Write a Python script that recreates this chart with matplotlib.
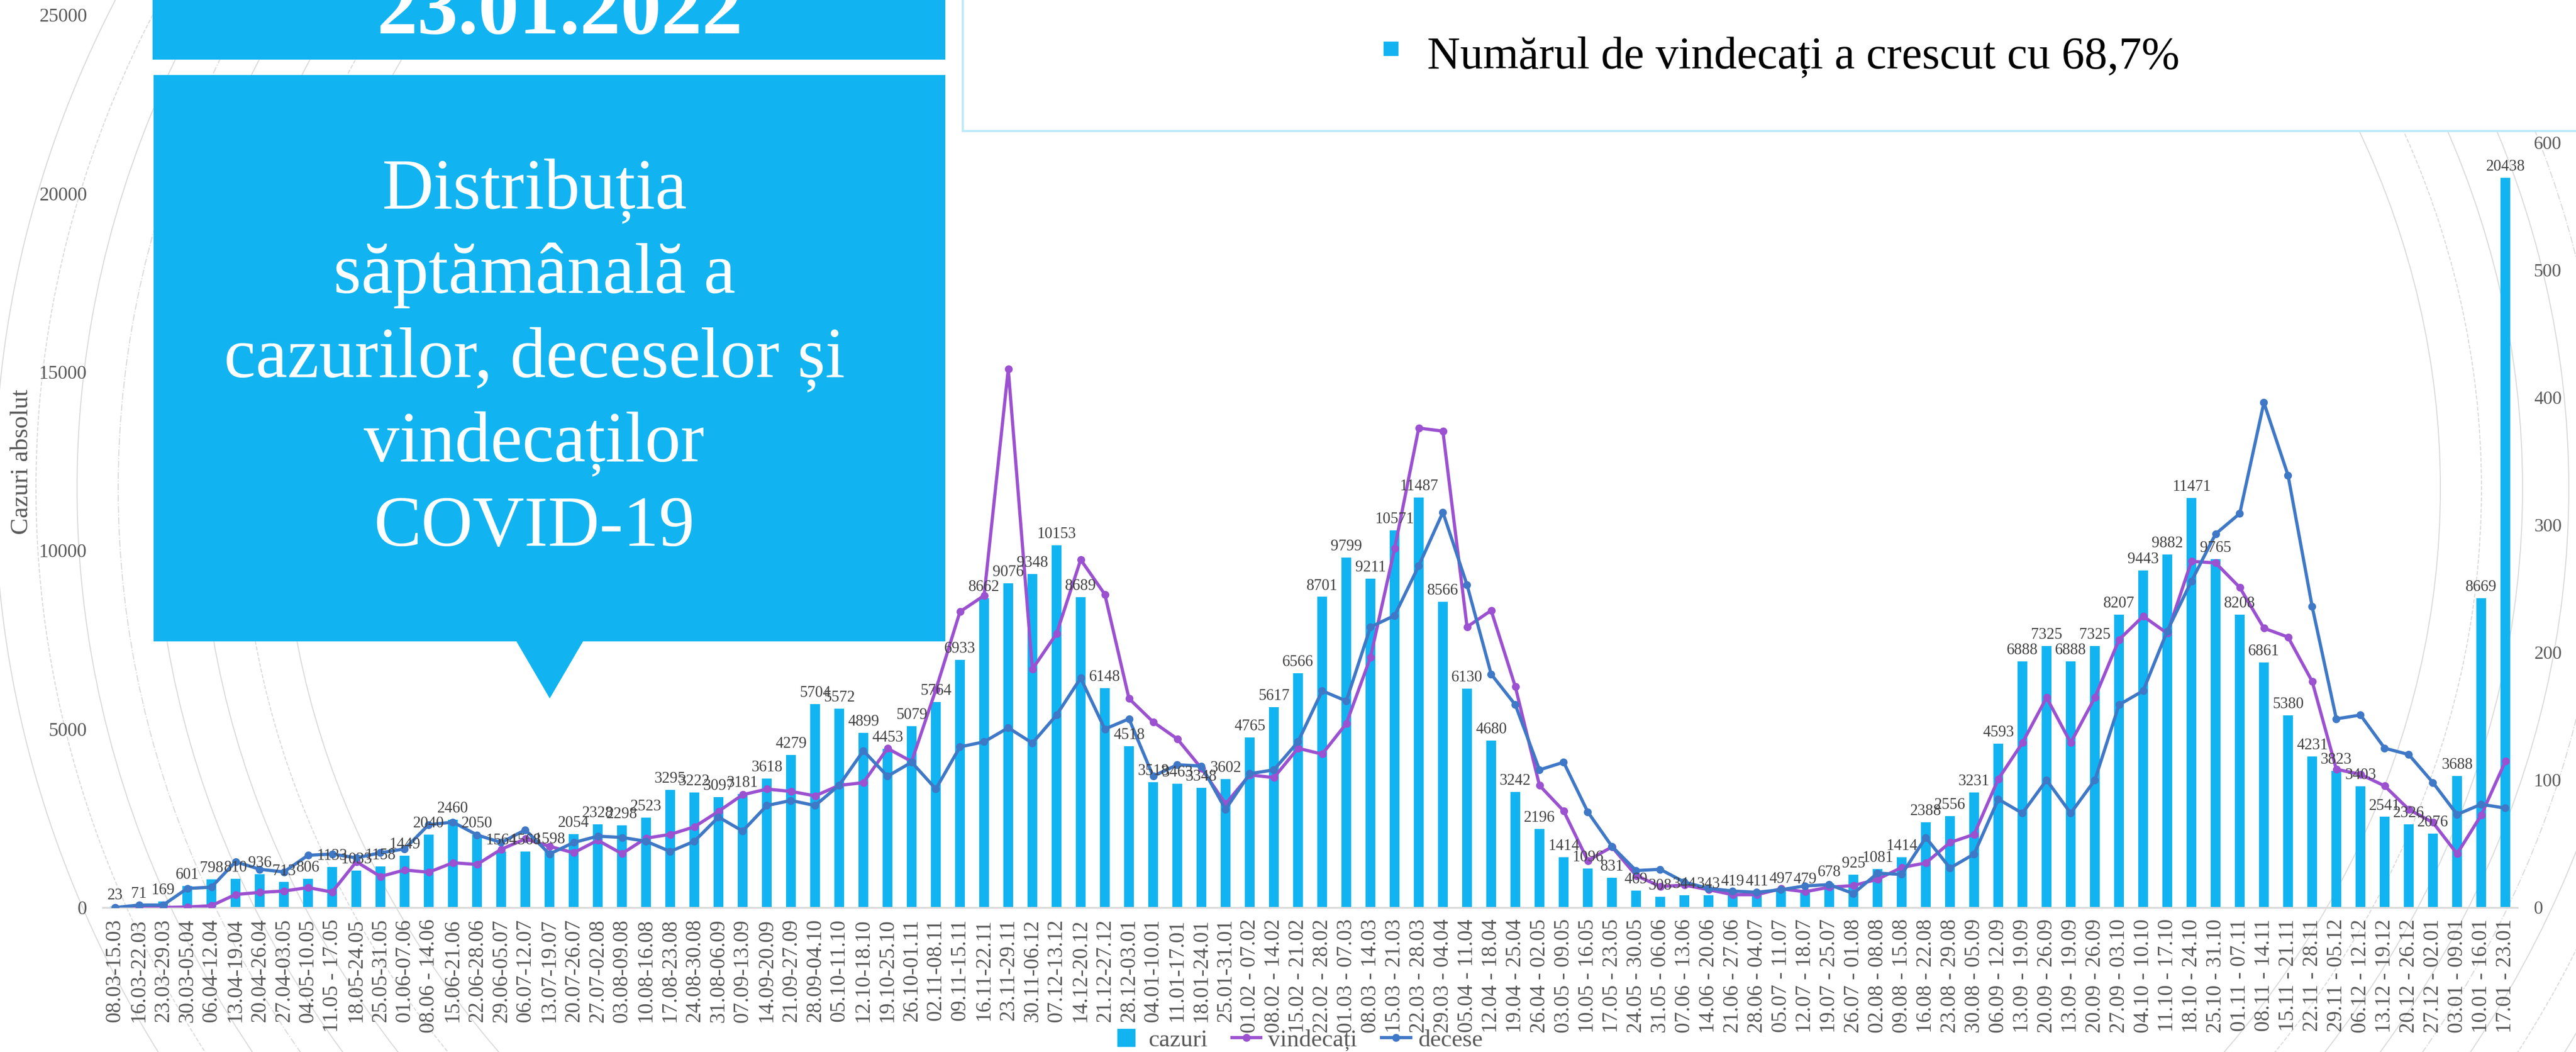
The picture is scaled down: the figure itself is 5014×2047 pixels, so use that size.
import matplotlib.pyplot as plt
from matplotlib.patches import Rectangle, Polygon, Ellipse
from matplotlib.lines import Line2D

plt.rcParams['font.family'] = ['Liberation Serif', 'DejaVu Serif']

weeks = ['08.03-15.03', '16.03-22.03', '23.03-29.03', '30.03-05.04', '06.04-12.04',
         '13.04-19.04', '20.04-26.04', '27.04-03.05', '04.05-10.05', '11.05 - 17.05',
         '18.05-24.05', '25.05-31.05', '01.06-07.06', '08.06 - 14.06', '15.06-21.06',
         '22.06-28.06', '29.06-05.07', '06.07-12.07', '13.07-19.07', '20.07-26.07',
         '27.07-02.08', '03.08-09.08', '10.08-16.08', '17.08-23.08', '24.08-30.08',
         '31.08-06.09', '07.09-13.09', '14.09-20.09', '21.09-27.09', '28.09-04.10',
         '05.10-11.10', '12.10-18.10', '19.10-25.10', '26.10-01.11', '02.11-08.11',
         '09.11-15.11', '16.11-22.11', '23.11-29.11', '30.11-06.12', '07.12-13.12',
         '14.12-20.12', '21.12-27.12', '28.12-03.01', '04.01-10.01', '11.01-17.01',
         '18.01-24.01', '25.01-31.01', '01.02 - 07.02', '08.02 - 14.02', '15.02 - 21.02',
         '22.02 - 28.02', '01.03 - 07.03', '08.03 - 14.03', '15.03 - 21.03', '22.03 - 28.03',
         '29.03 - 04.04', '05.04 - 11.04', '12.04 - 18.04', '19.04 - 25.04', '26.04 - 02.05',
         '03.05 - 09.05', '10.05 - 16.05', '17.05 - 23.05', '24.05 - 30.05', '31.05 - 06.06',
         '07.06 - 13.06', '14.06 - 20.06', '21.06 - 27.06', '28.06 - 04.07', '05.07 - 11.07',
         '12.07 - 18.07', '19.07 - 25.07', '26.07 - 01.08', '02.08 - 08.08', '09.08 - 15.08',
         '16.08 - 22.08', '23.08 - 29.08', '30.08 - 05.09', '06.09 - 12.09', '13.09 - 19.09',
         '20.09 - 26.09', '13.09 - 19.09', '20.09 - 26.09', '27.09 - 03.10', '04.10 - 10.10',
         '11.10 - 17.10', '18.10 - 24.10', '25.10 - 31.10', '01.11 - 07.11', '08.11 - 14.11',
         '15.11 - 21.11', '22.11 - 28.11', '29.11 - 05.12', '06.12 - 12.12', '13.12 - 19.12',
         '20.12 - 26.12', '27.12 - 02.01', '03.01 - 09.01', '10.01 - 16.01', '17.01 - 23.01']

cazuri = [23, 71, 169, 601, 798, 810, 936, 713, 806, 1133,
          1033, 1158, 1449, 2040, 2460, 2050, 1564, 1568, 1598, 2054,
          2328, 2298, 2523, 3295, 3222, 3097, 3181, 3618, 4279, 5704,
          5572, 4899, 4453, 5079, 5764, 6933, 8662, 9076, 9348, 10153,
          8689, 6148, 4518, 3518, 3463, 3348, 3602, 4765, 5617, 6566,
          8701, 9799, 9211, 10571, 11487, 8566, 6130, 4680, 3242, 2196,
          1414, 1096, 831, 469, 308, 344, 343, 419, 411, 497,
          479, 678, 925, 1081, 1414, 2388, 2556, 3231, 4593, 6888,
          7325, 6888, 7325, 8207, 9443, 9882, 11471, 9765, 8208, 6861,
          5380, 4231, 3823, 3403, 2541, 2326, 2076, 3688, 8669, 20438]

vindecati = [0, 0, 3, 15, 53, 367, 425, 464, 560, 435,
             1285, 870, 1053, 990, 1256, 1208, 1633, 1923, 1715, 1536,
             1884, 1510, 1944, 2050, 2261, 2695, 3160, 3318, 3255, 3128,
             3424, 3498, 4459, 4090, 6100, 8285, 8739, 15080, 6679, 7672,
             9743, 8771, 5854, 5199, 4724, 3900, 2905, 3717, 3640, 4462,
             4298, 5153, 7006, 10054, 13430, 13343, 7861, 8321, 6184, 3421,
             2708, 1316, 1699, 899, 592, 630, 500, 362, 362, 527,
             444, 571, 616, 793, 1123, 1250, 1822, 2050, 3599, 4615,
             5882, 4615, 5882, 7502, 8161, 7679, 9697, 9653, 8966, 7825,
             7576, 6333, 3876, 3730, 3408, 2750, 2384, 1506, 2589, 4095]

decese = [0, 2, 2, 15, 16, 36, 30, 28, 41, 42,
          39, 43, 46, 65, 67, 57, 51, 61, 42, 51,
          56, 55, 52, 44, 52, 71, 60, 80, 84, 80,
          96, 123, 103, 114, 93, 126, 130, 141, 129, 151,
          180, 140, 148, 103, 112, 111, 77, 105, 108, 130,
          170, 162, 220, 229, 268, 310, 253, 183, 159, 108,
          114, 75, 48, 29, 30, 20, 15, 13, 12, 14,
          17, 18, 11, 27, 26, 55, 31, 42, 85, 74,
          100, 74, 100, 159, 170, 217, 256, 293, 309, 396,
          339, 236, 148, 151, 125, 120, 98, 73, 81, 78]

W, H = 5014, 2047
blue = '#11B4F1'
gray = '#595959'


def fx(px):
    return px / W


def fy(py):
    return 1 - py / H


fig = plt.figure(figsize=(W / 100, H / 100), dpi=100)

# faint arcs of the slide template behind the chart
for a, ls in [(2100, '-'), (2180, '--'), (2260, '-'), (2350, '-'),
              (2420, '-.'), (2500, '-'), (2580, '--'), (2660, '-')]:
    fig.add_artist(Ellipse((fx(2650), fy(950)), 2 * a / W, 2 * a * 0.87 / H,
                           fill=False, ec='#DADADA', lw=1.5, ls=ls, zorder=-1))

ax = fig.add_axes([fx(200), fy(1766), (4900 - 200) / W, (1766 - 29) / H])
ax.patch.set_visible(False)
x = list(range(len(weeks)))
ax.bar(x, cazuri, width=0.4, color=blue, zorder=2)
ax.plot(x, vindecati, color='#9B51D0', lw=4.5, marker='o', ms=10, zorder=3)
ax.set_xlim(-0.5, len(weeks) - 0.5)
ax.set_ylim(0, 25000)
ax.set_yticks(range(0, 25001, 5000))
ax.set_xticks(x)
ax.set_xticklabels(weeks, rotation=90, fontsize=30, color=gray)
ax.tick_params(axis='both', length=0)
ax.tick_params(axis='x', pad=16)
ax.tick_params(axis='y', labelsize=27, labelcolor=gray, pad=22)
for s in ['left', 'right', 'top']:
    ax.spines[s].set_visible(False)
ax.spines['bottom'].set_color('#D9D9D9')
ax.spines['bottom'].set_linewidth(2.5)

ax2 = ax.twinx()
ax2.plot(x, decese, color='#3F78C6', lw=4.5, marker='o', ms=10)
ax2.set_ylim(0, 700)
ax2.set_yticks(range(0, 601, 100))
ax2.tick_params(length=0, labelsize=26, labelcolor=gray, pad=23)
for s in ax2.spines.values():
    s.set_visible(False)

for i, v in enumerate(cazuri):
    ax2.annotate(str(v), (i, v), xycoords=ax.transData, xytext=(0, 5),
                 textcoords='offset points', ha='center', va='bottom',
                 fontsize=22, color='#404040')

fig.text(fx(42), fy(899), 'Cazuri absolut', rotation=90, ha='center', va='center',
         fontsize=35, color=gray)

handles = [Line2D([], [], marker='s', ls='none', ms=24, color=blue),
           Line2D([], [], color='#9B51D0', lw=4.5, marker='o', ms=10),
           Line2D([], [], color='#3F78C6', lw=4.5, marker='o', ms=10)]
fig.legend(handles, ['cazuri', 'vindecați', 'decese'], loc='center',
           bbox_to_anchor=(fx(2525), fy(2024)), ncol=3, frameon=False,
           fontsize=34, labelcolor=gray, handlelength=1.2, columnspacing=1.0,
           handletextpad=0.3, borderpad=0.1)

# boxes over the chart
fig.add_artist(Rectangle((fx(297), fy(116)), (1840 - 297) / W, 130 / H,
                         fc=blue, ec='none', zorder=10))
fig.text(fx(1089), fy(65), '23.01.2022', ha='center', va='baseline', fontsize=114,
         fontweight='bold', color='white', zorder=11)

fig.add_artist(Rectangle((fx(299), fy(1248)), (1840 - 299) / W, (1248 - 146) / H,
                         fc=blue, ec='none', zorder=10))
fig.add_artist(Polygon([(fx(1004), fy(1246)), (fx(1136), fy(1246)), (fx(1070), fy(1359))],
                       closed=True, fc=blue, ec='none', zorder=10))
title_lines = ['Distribuția', 'săptămânală a', 'cazurilor, deceselor și',
               'vindecaților', 'COVID-19']
for k, line in enumerate(title_lines):
    fig.text(fx(1040), fy(406 + 164 * k), line, ha='center', va='baseline',
             fontsize=100, color='white', zorder=11)

fig.add_artist(Rectangle((fx(1874), fy(255)), (W - 1874 + 30) / W, 290 / H,
                         fc='white', ec='#BDE9FB', lw=3, zorder=10))
fig.add_artist(Rectangle((fx(2693), fy(109)), 29 / W, 28 / H, fc=blue, ec='none', zorder=11))
fig.text(fx(2778), fy(132), 'Numărul de vindecați a crescut cu 68,7%', ha='left',
         va='baseline', fontsize=64, color='black', zorder=11)

fig.savefig('out.png', dpi=100)
